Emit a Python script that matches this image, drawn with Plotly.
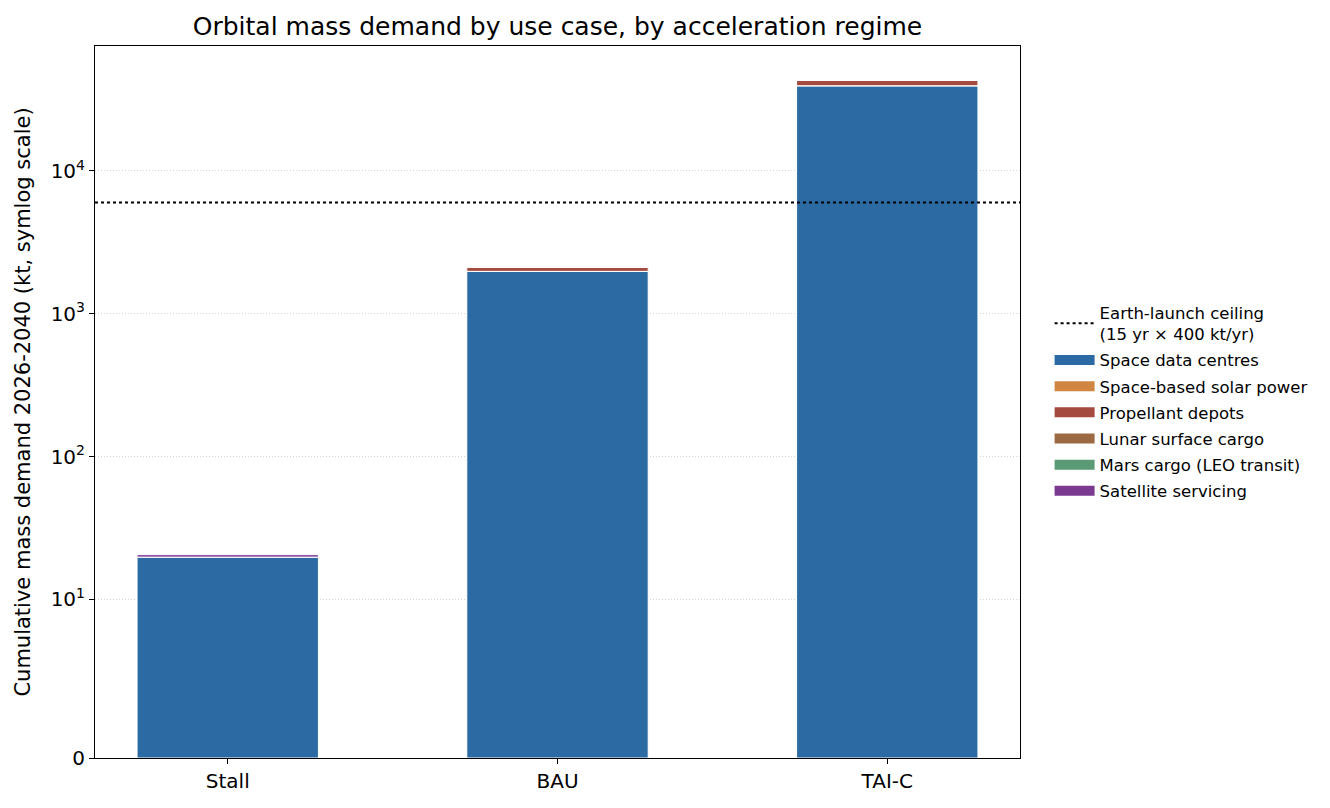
import numpy as np
import plotly.graph_objects as go

# ---- data (kt, cumulative 2026-2040) ----
scenarios = ["Stall", "BAU", "TAI-C"]
space_data_centres = [19.7, 1980.0, 39500.0]
space_solar_power = [0.0, 0.0, 0.0]
propellant_depots = [0.05, 140.0, 3600.0]
lunar_cargo = [0.0, 5.0, 150.0]
mars_cargo = [0.0, 1.0, 50.0]
satellite_servicing = [0.8, 8.0, 100.0]
launch_ceiling = 15 * 400  # kt

series_names = ["Space data centres", "Space-based solar power", "Propellant depots",
                "Lunar surface cargo", "Mars cargo (LEO transit)", "Satellite servicing"]
series_values = [space_data_centres, space_solar_power, propellant_depots,
                 lunar_cargo, mars_cargo, satellite_servicing]
series_colors = ["#2c6aa3", "#d08641", "#a44a3f", "#9b6a42", "#5a9a74", "#7b3992"]

tick_values = [0, 10, 100, 1000, 10000]
tick_labels = ["0", "10<sup>1</sup>", "10<sup>2</sup>", "10<sup>3</sup>", "10<sup>4</sup>"]

# symlog transform (matplotlib style: linthresh=10, linscale=1, base 10)
LINTHRESH = 10.0
LINSCALE_ADJ = 1.0 / (1.0 - 1.0 / 10.0)


def symlog(v):
    v = np.asarray(v, dtype=float)
    a = np.abs(v)
    out = np.where(a <= LINTHRESH, a * LINSCALE_ADJ / LINTHRESH,
                   LINSCALE_ADJ + np.log10(np.maximum(a, LINTHRESH) / LINTHRESH))
    return np.sign(v) * out


fig = go.Figure()

XMIN, XMAX = -0.4025, 2.4025
x = list(range(len(scenarios)))
cum = np.zeros(len(scenarios))
for i, (name, vals, col) in enumerate(zip(series_names, series_values, series_colors)):
    vals = np.asarray(vals, dtype=float)
    base_t = symlog(cum)
    top_t = symlog(cum + vals)
    fig.add_trace(go.Bar(
        x=x, y=top_t - base_t, base=base_t, name=name, width=0.55,
        marker=dict(color=col, line=dict(color="white", width=1)),
        showlegend=False, legendgroup=name,
    ))
    # legend swatch (wide rectangle like matplotlib)
    fig.add_trace(go.Scatter(
        x=[None], y=[None], mode="lines", name=name, legendgroup=name,
        line=dict(color=col, width=10), legendrank=10 + i,
    ))
    cum = cum + vals

totals_t = symlog(cum)
ymax = float(np.max(totals_t)) * 1.05

# ceiling line across the full axis width
ceiling_t = float(symlog(launch_ceiling))
fig.add_shape(type="line", xref="paper", x0=0, x1=1, yref="y", y0=ceiling_t, y1=ceiling_t,
              line=dict(color="black", width=2, dash="dot"), layer="above")
fig.add_trace(go.Scatter(
    x=[None], y=[None], mode="lines",
    line=dict(color="black", width=2, dash="dot"),
    name="Earth-launch ceiling<br>(15 yr × 400 kt/yr)", legendrank=1,
    legendgroup="ceiling",
))

fig.update_layout(
    width=1330, height=808,
    margin=dict(l=95, r=310, t=46, b=50),
    paper_bgcolor="white", plot_bgcolor="white",
    font=dict(family="DejaVu Sans", size=20, color="black"),
    barmode="overlay",
    title=dict(text="Orbital mass demand by use case, by acceleration regime",
               x=(95 + 1020) / 2 / 1330, xanchor="center", y=1 - 26 / 808, yanchor="middle",
               font=dict(size=25)),
    legend=dict(x=1.032, xanchor="left", y=0.650, yanchor="top",
                font=dict(size=16.5), bgcolor="rgba(0,0,0,0)", tracegroupgap=1.7,
                itemwidth=40),
    showlegend=True,
)

fig.update_xaxes(
    range=[XMIN, XMAX], tickvals=x, ticktext=scenarios,
    showline=True, linecolor="black", linewidth=1, mirror=True,
    ticks="outside", ticklen=5, tickcolor="black", showgrid=False,
    tickfont=dict(size=20), zeroline=False,
)
fig.update_yaxes(
    range=[0, ymax], tickvals=[float(v) for v in symlog(tick_values)], ticktext=tick_labels,
    showline=True, linecolor="black", linewidth=1, mirror=True,
    ticks="outside", ticklen=5, tickcolor="black",
    showgrid=True, gridcolor="#d6d6d6", griddash="1px,2px", gridwidth=1,
    zeroline=False, tickfont=dict(size=20),
    title=dict(text="Cumulative mass demand 2026-2040 (kt, symlog scale)", font=dict(size=21), standoff=14),
)

fig.write_html("out.html")
